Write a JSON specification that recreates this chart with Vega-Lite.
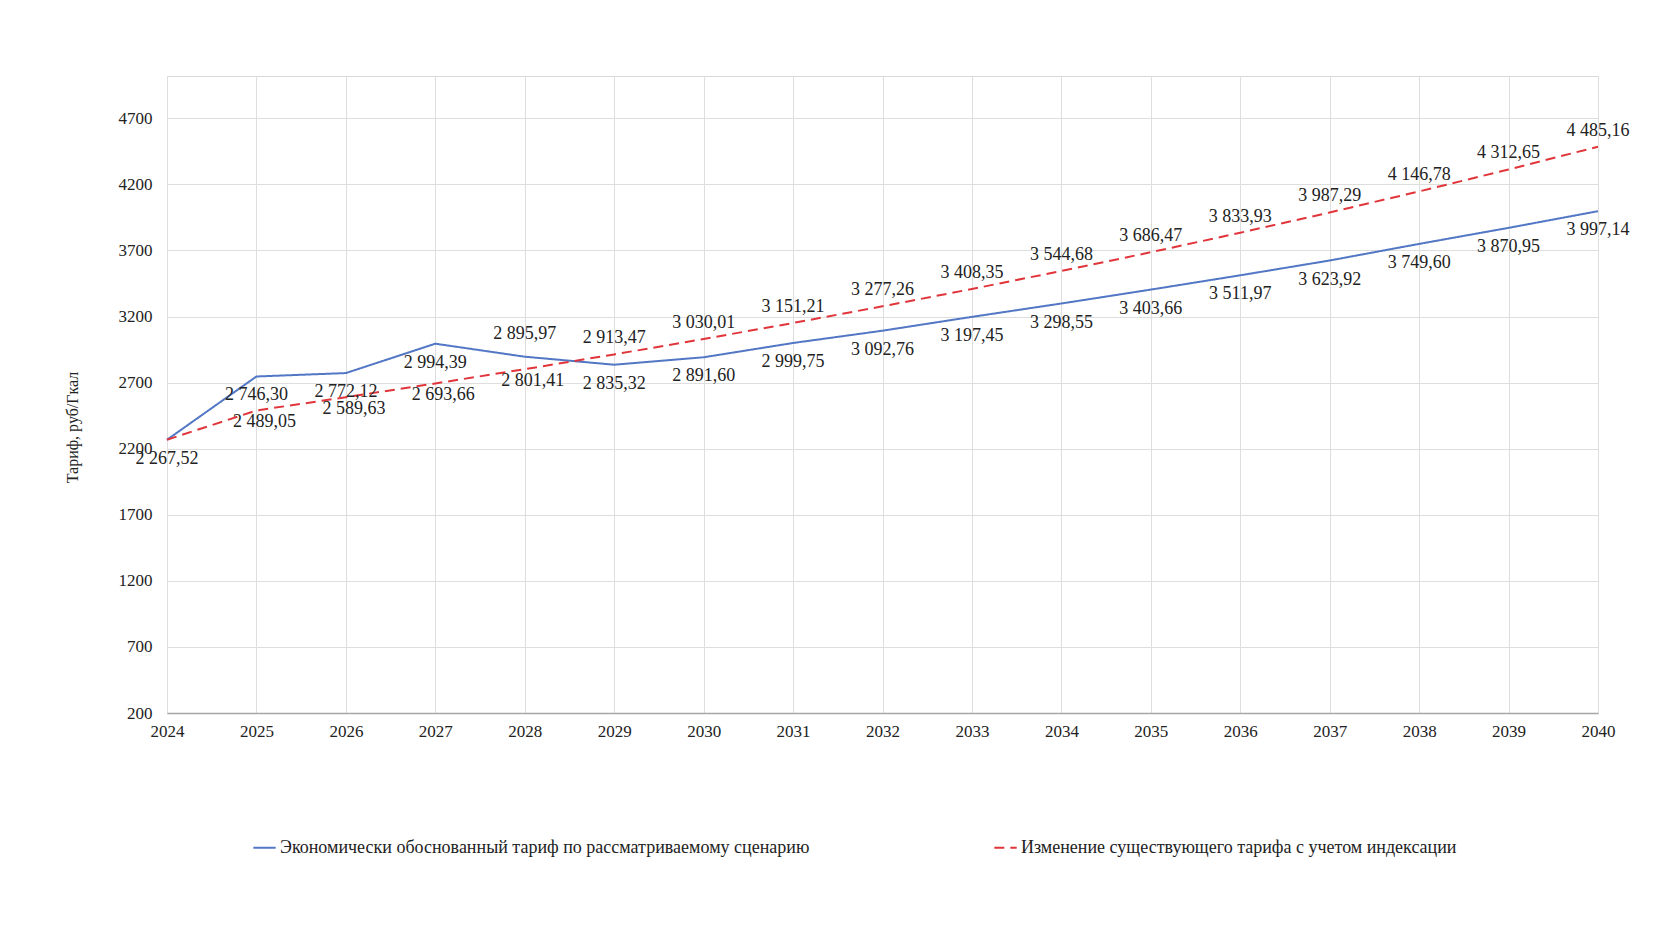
{
  "$schema": "https://vega.github.io/schema/vega-lite/v6.json",
  "autosize": {"type": "none"},
  "padding": {"left": 167, "top": 76, "right": 72, "bottom": 235},
  "width": 1431,
  "height": 637,
  "background": "white",
  "config": {
    "font": "Liberation Serif",
    "locale": {"number": {"decimal": ",", "thousands": " ", "grouping": [3], "currency": ["", ""]}},
    "view": {"stroke": "#d9d9d9", "strokeWidth": 1},
    "axis": {"labelFont": "Liberation Serif", "labelFontSize": 17, "labelColor": "#222", "titleFont": "Liberation Serif", "titleFontWeight": "normal", "titleColor": "#222", "gridColor": "#dedede", "gridWidth": 1, "ticks": false}
  },
  "data": {"values": [
    {"year": 2024, "series": "Экономически обоснованный тариф по рассматриваемому сценарию", "value": 2267.52},
    {"year": 2025, "series": "Экономически обоснованный тариф по рассматриваемому сценарию", "value": 2746.30},
    {"year": 2026, "series": "Экономически обоснованный тариф по рассматриваемому сценарию", "value": 2772.12},
    {"year": 2027, "series": "Экономически обоснованный тариф по рассматриваемому сценарию", "value": 2994.39},
    {"year": 2028, "series": "Экономически обоснованный тариф по рассматриваемому сценарию", "value": 2895.97},
    {"year": 2029, "series": "Экономически обоснованный тариф по рассматриваемому сценарию", "value": 2835.32},
    {"year": 2030, "series": "Экономически обоснованный тариф по рассматриваемому сценарию", "value": 2891.60},
    {"year": 2031, "series": "Экономически обоснованный тариф по рассматриваемому сценарию", "value": 2999.75},
    {"year": 2032, "series": "Экономически обоснованный тариф по рассматриваемому сценарию", "value": 3092.76},
    {"year": 2033, "series": "Экономически обоснованный тариф по рассматриваемому сценарию", "value": 3197.45},
    {"year": 2034, "series": "Экономически обоснованный тариф по рассматриваемому сценарию", "value": 3298.55},
    {"year": 2035, "series": "Экономически обоснованный тариф по рассматриваемому сценарию", "value": 3403.66},
    {"year": 2036, "series": "Экономически обоснованный тариф по рассматриваемому сценарию", "value": 3511.97},
    {"year": 2037, "series": "Экономически обоснованный тариф по рассматриваемому сценарию", "value": 3623.92},
    {"year": 2038, "series": "Экономически обоснованный тариф по рассматриваемому сценарию", "value": 3749.60},
    {"year": 2039, "series": "Экономически обоснованный тариф по рассматриваемому сценарию", "value": 3870.95},
    {"year": 2040, "series": "Экономически обоснованный тариф по рассматриваемому сценарию", "value": 3997.14},
    {"year": 2024, "series": "Изменение существующего тарифа с учетом индексации", "value": 2267.52},
    {"year": 2025, "series": "Изменение существующего тарифа с учетом индексации", "value": 2489.05},
    {"year": 2026, "series": "Изменение существующего тарифа с учетом индексации", "value": 2589.63},
    {"year": 2027, "series": "Изменение существующего тарифа с учетом индексации", "value": 2693.66},
    {"year": 2028, "series": "Изменение существующего тарифа с учетом индексации", "value": 2801.41},
    {"year": 2029, "series": "Изменение существующего тарифа с учетом индексации", "value": 2913.47},
    {"year": 2030, "series": "Изменение существующего тарифа с учетом индексации", "value": 3030.01},
    {"year": 2031, "series": "Изменение существующего тарифа с учетом индексации", "value": 3151.21},
    {"year": 2032, "series": "Изменение существующего тарифа с учетом индексации", "value": 3277.26},
    {"year": 2033, "series": "Изменение существующего тарифа с учетом индексации", "value": 3408.35},
    {"year": 2034, "series": "Изменение существующего тарифа с учетом индексации", "value": 3544.68},
    {"year": 2035, "series": "Изменение существующего тарифа с учетом индексации", "value": 3686.47},
    {"year": 2036, "series": "Изменение существующего тарифа с учетом индексации", "value": 3833.93},
    {"year": 2037, "series": "Изменение существующего тарифа с учетом индексации", "value": 3987.29},
    {"year": 2038, "series": "Изменение существующего тарифа с учетом индексации", "value": 4146.78},
    {"year": 2039, "series": "Изменение существующего тарифа с учетом индексации", "value": 4312.65},
    {"year": 2040, "series": "Изменение существующего тарифа с учетом индексации", "value": 4485.16}
  ]},
  "encoding": {
    "x": {"field": "year", "type": "quantitative", "scale": {"domain": [2024, 2040], "nice": false, "zero": false},
      "axis": {"title": null, "values": [2024,2025,2026,2027,2028,2029,2030,2031,2032,2033,2034,2035,2036,2037,2038,2039,2040], "format": "d", "labelPadding": 10, "domainColor": "#a6a6a6", "domainWidth": 1.5, "labelFlush": false}},
    "y": {"field": "value", "type": "quantitative", "scale": {"domain": [200, 5020], "nice": false, "zero": false},
      "axis": {"title": "Тариф, руб/Гкал", "titleFontSize": 16, "titleX": -95, "titleY": 351, "titleAngle": 270, "titleAlign": "center", "titleBaseline": "middle", "values": [200,700,1200,1700,2200,2700,3200,3700,4200,4700], "format": "d", "labelPadding": 15, "domain": false}}
  },
  "layer": [
    {
      "mark": {"type": "line", "strokeWidth": 2},
      "encoding": {
        "color": {"field": "series", "type": "nominal",
          "scale": {"domain": ["Экономически обоснованный тариф по рассматриваемому сценарию", "Изменение существующего тарифа с учетом индексации"], "range": ["#5277c4", "#e0353a"]},
          "legend": {"title": null, "orient": "none", "direction": "horizontal", "legendX": 85, "legendY": 759, "labelFont": "Liberation Serif", "labelFontSize": 18, "labelColor": "#222", "labelLimit": 800, "symbolType": "stroke", "symbolSize": 500, "symbolStrokeWidth": 2, "columnPadding": 180, "labelOffset": 3}},
        "strokeDash": {"field": "series", "type": "nominal",
          "scale": {"domain": ["Экономически обоснованный тариф по рассматриваемому сценарию", "Изменение существующего тарифа с учетом индексации"], "range": [[1, 0], [10, 6]]},
          "legend": null}
      }
    },
    {
      "transform": [{"filter": "datum.series === 'Экономически обоснованный тариф по рассматриваемому сценарию' && datum.year !== 2028"}],
      "mark": {"type": "text", "fontSize": 18, "color": "#222", "dy": 19, "baseline": "middle"},
      "encoding": {"text": {"field": "value", "type": "quantitative", "format": ",.2f"}}
    },
    {
      "transform": [{"filter": "datum.series === 'Экономически обоснованный тариф по рассматриваемому сценарию' && datum.year === 2028"}],
      "mark": {"type": "text", "fontSize": 18, "color": "#222", "dy": -23, "baseline": "middle"},
      "encoding": {"text": {"field": "value", "type": "quantitative", "format": ",.2f"}}
    },
    {
      "transform": [{"filter": "datum.series === 'Изменение существующего тарифа с учетом индексации' && datum.year > 2024 && datum.year <= 2028"}],
      "mark": {"type": "text", "fontSize": 18, "color": "#222", "dy": 12, "dx": 8, "baseline": "middle"},
      "encoding": {"text": {"field": "value", "type": "quantitative", "format": ",.2f"}}
    },
    {
      "transform": [{"filter": "datum.series === 'Изменение существующего тарифа с учетом индексации' && datum.year > 2028"}],
      "mark": {"type": "text", "fontSize": 18, "color": "#222", "dy": -16, "baseline": "middle"},
      "encoding": {"text": {"field": "value", "type": "quantitative", "format": ",.2f"}}
    }
  ]
}
